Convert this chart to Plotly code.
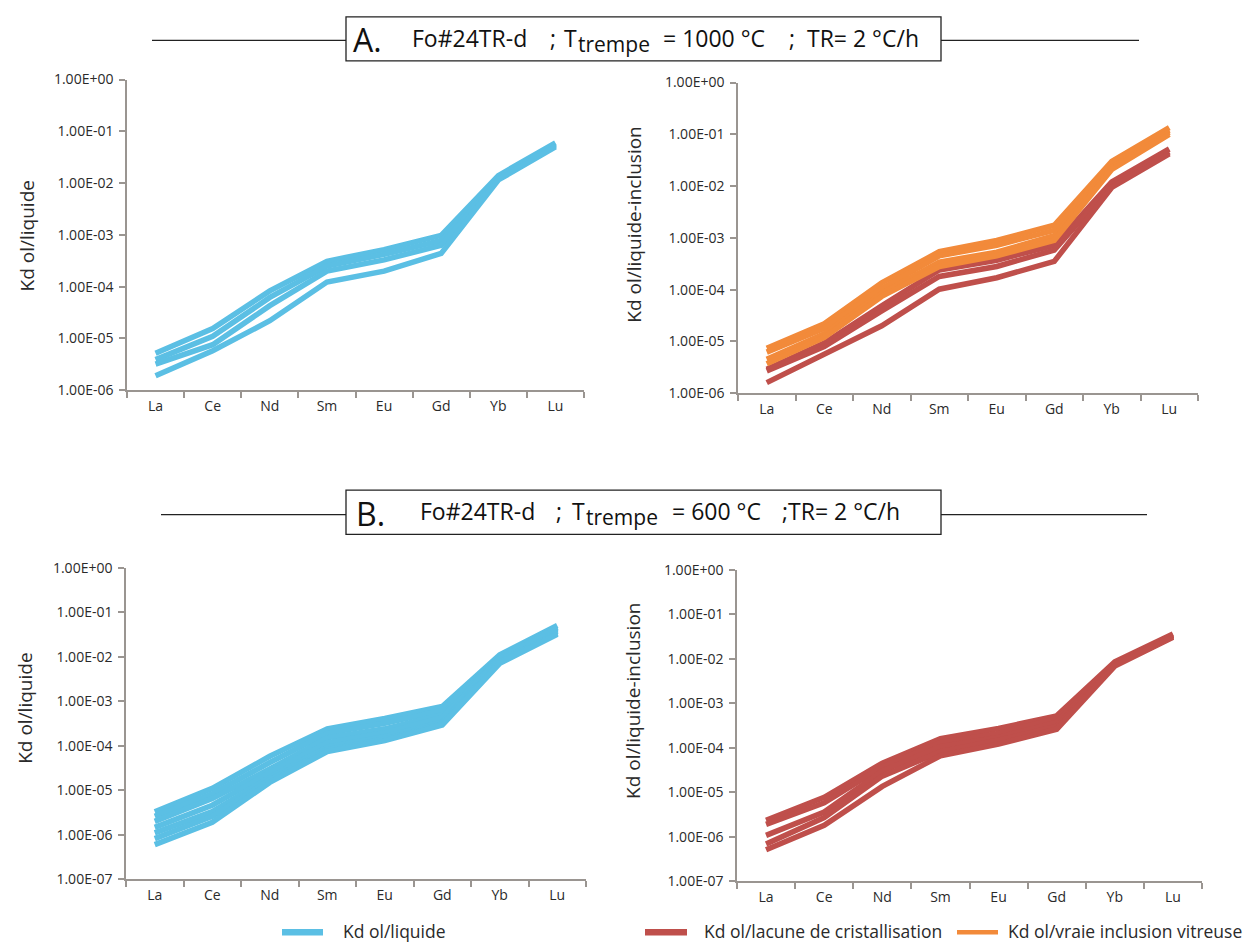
import plotly.graph_objects as go

# ---------------- data ----------------
elements = ["La", "Ce", "Nd", "Sm", "Eu", "Gd", "Yb", "Lu"]

# A (T trempe = 1000 °C) - Kd ol/liquide
A_liquide = [
    [5.2e-6, 1.56e-5, 8.3e-5, 3.1e-4, 5.2e-4, 9.8e-4, 1.40e-2, 6.0e-2],
    [3.9e-6, 1.10e-5, 6.2e-5, 2.5e-4, 4.2e-4, 7.8e-4, 1.30e-2, 5.7e-2],
    [3.2e-6, 7.6e-6, 4.3e-5, 2.0e-4, 3.3e-4, 6.3e-4, 1.20e-2, 5.3e-2],
    [1.9e-6, 5.8e-6, 2.2e-5, 1.23e-4, 2.0e-4, 4.4e-4, 1.15e-2, 5.0e-2],
]
# A - Kd ol/lacune de cristallisation
A_lacune = [
    [2.9e-6, 9.3e-6, 4.9e-5, 2.4e-4, 3.7e-4, 7.2e-4, 1.20e-2, 5.2e-2],
    [2.7e-6, 8.0e-6, 3.9e-5, 1.8e-4, 2.8e-4, 5.8e-4, 1.05e-2, 4.6e-2],
    [1.6e-6, 5.5e-6, 2.0e-5, 1.02e-4, 1.7e-4, 3.5e-4, 9.4e-3, 4.2e-2],
]
# A - Kd ol/vraie inclusion vitreuse
A_vraie = [
    [7.4e-6, 2.2e-5, 1.35e-4, 5.4e-4, 8.9e-4, 1.75e-3, 3.0e-2, 1.35e-1],
    [6.2e-6, 1.8e-5, 1.05e-4, 4.5e-4, 7.2e-4, 1.40e-3, 2.7e-2, 1.20e-1],
    [4.5e-6, 1.4e-5, 8.5e-5, 3.4e-4, 5.3e-4, 1.10e-3, 2.3e-2, 1.10e-1],
    [3.7e-6, 1.2e-5, 7.4e-5, 2.8e-4, 4.5e-4, 9.0e-4, 2.1e-2, 1.00e-1],
]
# B (T trempe = 600 °C) - Kd ol/liquide
B_liquide = [
    [3.3e-6, 1.1e-5, 5.8e-5, 2.4e-4, 4.1e-4, 7.6e-4, 1.10e-2, 5.0e-2],
    [2.6e-6, 8.3e-6, 4.2e-5, 1.9e-4, 3.2e-4, 6.2e-4, 1.00e-2, 4.6e-2],
    [2.0e-6, 6.5e-6, 3.0e-5, 1.5e-4, 2.4e-4, 5.0e-4, 9.5e-3, 4.3e-2],
    [1.47e-6, 4.6e-6, 2.5e-5, 1.18e-4, 1.95e-4, 4.3e-4, 9.0e-3, 4.0e-2],
    [1.1e-6, 3.3e-6, 1.95e-5, 9.3e-5, 1.6e-4, 3.4e-4, 8.3e-3, 3.7e-2],
    [8.2e-7, 2.6e-6, 1.7e-5, 8.2e-5, 1.4e-4, 3.1e-4, 7.6e-3, 3.4e-2],
    [6.0e-7, 1.9e-6, 1.5e-5, 7.4e-5, 1.3e-4, 2.9e-4, 7.1e-3, 3.2e-2],
]
# B - Kd ol/lacune de cristallisation
B_lacune = [
    [2.35e-6, 7.7e-6, 4.5e-5, 1.6e-4, 2.7e-4, 5.2e-4, 8.5e-3, 3.6e-2],
    [1.9e-6, 5.8e-6, 3.7e-5, 1.3e-4, 2.1e-4, 4.5e-4, 8.0e-3, 3.4e-2],
    [1.07e-6, 3.6e-6, 3.0e-5, 1.05e-4, 1.7e-4, 3.7e-4, 7.6e-3, 3.3e-2],
    [6.9e-7, 2.7e-6, 2.3e-5, 8.1e-5, 1.48e-4, 3.0e-4, 7.2e-3, 3.1e-2],
    [5.1e-7, 1.8e-6, 1.35e-5, 6.6e-5, 1.2e-4, 2.6e-4, 6.8e-3, 3.0e-2],
]

tickvals_A = [1e-6, 1e-5, 1e-4, 1e-3, 1e-2, 1e-1, 1e0]
ticktext_A = ["1.00E-06", "1.00E-05", "1.00E-04", "1.00E-03", "1.00E-02", "1.00E-01", "1.00E+00"]
tickvals_B = [1e-7] + tickvals_A
ticktext_B = ["1.00E-07"] + ticktext_A

# header texts, split in pieces (letter, sample, ";", "T", subscript, value, ";", rate)
header_A = ["A.", "Fo#24TR-d", ";", "T", "trempe", "= 1000 °C", ";", "TR= 2 °C/h"]
header_B = ["B.", "Fo#24TR-d", ";", "T", "trempe", "= 600 °C", ";TR= 2 °C/h"]
ytitle_liq = "Kd ol/liquide"
ytitle_incl = "Kd ol/liquide-inclusion"
legend_labels = ["Kd ol/liquide", "Kd ol/lacune de cristallisation", "Kd ol/vraie inclusion vitreuse"]

# ---------------- style ----------------
W, H = 1250, 952
BLUE = "#5BBFE4"
RED = "#BF4F4B"
ORANGE = "#F28A3A"
AXIS = "#9a9591"
TXT = "#2a2a2a"
FONT = "Open Sans"
LW = 5.5


def px(x):
    return x / W


def py(y):
    return 1 - y / H


fig = go.Figure()

panels = [
    ("x", "y", 127, 584, 71, 388, [(A_liquide, BLUE)], [-6, 0], tickvals_A, ticktext_A),
    ("x2", "y2", 738, 1198, 74, 391, [(A_lacune, RED), (A_vraie, ORANGE)], [-6, 0], tickvals_A, ticktext_A),
    ("x3", "y3", 126, 586, 569, 887, [(B_liquide, BLUE)], [-7, 0], tickvals_B, ticktext_B),
    ("x4", "y4", 737, 1202, 571, 889, [(B_lacune, RED)], [-7, 0], tickvals_B, ticktext_B),
]

layout_axes = {}
for xid, yid, x0, x1, yt, yb, series, yr, tv, tt in panels:
    for group, color in series:
        for vals in group:
            fig.add_trace(go.Scatter(
                x=elements, y=vals, mode="lines", xaxis=xid, yaxis=yid,
                line=dict(color=color, width=LW), showlegend=False, hoverinfo="skip",
            ))
    xname = "xaxis" + xid[1:]
    yname = "yaxis" + yid[1:]
    layout_axes[xname] = dict(
        domain=[px(x0), px(x1)], anchor=yid, type="category",
        categoryorder="array", categoryarray=elements, range=[-0.5, 7.5],
        showline=True, linecolor=AXIS, linewidth=1.5, showgrid=False, zeroline=False,
        ticks="outside", tickson="boundaries", ticklen=6, tickcolor=AXIS, tickwidth=1.5,
        tickfont=dict(family=FONT, size=14, color=TXT), ticklabelstandoff=2,
        fixedrange=True,
    )
    layout_axes[yname] = dict(
        domain=[py(yb), py(yt)], anchor=xid, type="log", range=yr,
        tickmode="array", tickvals=tv, ticktext=tt,
        showline=True, linecolor=AXIS, linewidth=1.5, showgrid=False, zeroline=False,
        ticks="outside", ticklen=6, tickcolor=AXIS, tickwidth=1.5,
        tickfont=dict(family=FONT, size=14, color=TXT), ticklabelstandoff=3,
        fixedrange=True,
    )

shapes = []
annotations = []

# section headers: boxes + side lines
header_specs = [
    (31, 7, 52, header_A, 152, 1139,
     [351, 410, 548, 562, 576, 661, 787, 805],
     [32, 23, 23, 23, 21, 23, 23, 23],
     [1, -1, -1, -1, 5, -1, -1, -1]),
    (515, 490, 535, header_B, 161, 1147,
     [354, 418, 554, 570, 584, 670, 780],
     [32, 23, 23, 23, 21, 23, 23],
     [1, -1, -1, -1, 5, -1, -1]),
]
for (ly, btop, bbot, pieces, l0, r1, xs, sizes, dys) in header_specs:
    shapes.append(dict(type="line", xref="paper", yref="paper", x0=px(l0), x1=px(346),
                       y0=py(ly), y1=py(ly), line=dict(color="#222", width=1.3)))
    shapes.append(dict(type="line", xref="paper", yref="paper", x0=px(941), x1=px(r1),
                       y0=py(ly), y1=py(ly), line=dict(color="#222", width=1.3)))
    shapes.append(dict(type="rect", xref="paper", yref="paper", x0=px(346), x1=px(941),
                       y0=py(bbot), y1=py(btop), line=dict(color="#222", width=1.3),
                       fillcolor="white"))
    mid = (btop + bbot) / 2
    for txt, xx, sz, dy in zip(pieces, xs, sizes, dys):
        annotations.append(dict(text=txt, xref="paper", yref="paper", x=px(xx), y=py(mid + dy),
                                xanchor="left", yanchor="middle", showarrow=False,
                                font=dict(family=FONT, size=sz, color="#111")))

# y-axis titles
for (tx, ty, txt) in [(27, 231, ytitle_liq), (634, 219, ytitle_incl),
                      (25, 713, ytitle_liq), (633, 705, ytitle_incl)]:
    annotations.append(dict(text=txt, xref="paper", yref="paper", x=px(tx), y=py(ty),
                            xanchor="center", yanchor="middle", textangle=-90, showarrow=False,
                            font=dict(family=FONT, size=19, color=TXT)))

# legend
for (lx0, lx1, color, lw, tx, label) in [
    (282, 323, BLUE, 6.5, 341, legend_labels[0]),
    (645, 687, RED, 6.5, 702, legend_labels[1]),
    (957, 998, ORANGE, 4.5, 1006, legend_labels[2]),
]:
    shapes.append(dict(type="line", xref="paper", yref="paper", x0=px(lx0), x1=px(lx1),
                       y0=py(941), y1=py(941), line=dict(color=color, width=lw)))
    annotations.append(dict(text=label, xref="paper", yref="paper", x=px(tx), y=py(940),
                            xanchor="left", yanchor="middle", showarrow=False,
                            font=dict(family=FONT, size=17.5, color=TXT)))

fig.update_layout(
    width=W, height=H, margin=dict(l=0, r=0, t=0, b=0),
    paper_bgcolor="white", plot_bgcolor="white",
    shapes=shapes, annotations=annotations, showlegend=False,
    **layout_axes,
)

fig.write_html("out.html", config={"displayModeBar": False},
               post_script="document.body.style.margin='0px';document.body.style.overflow='hidden';")
